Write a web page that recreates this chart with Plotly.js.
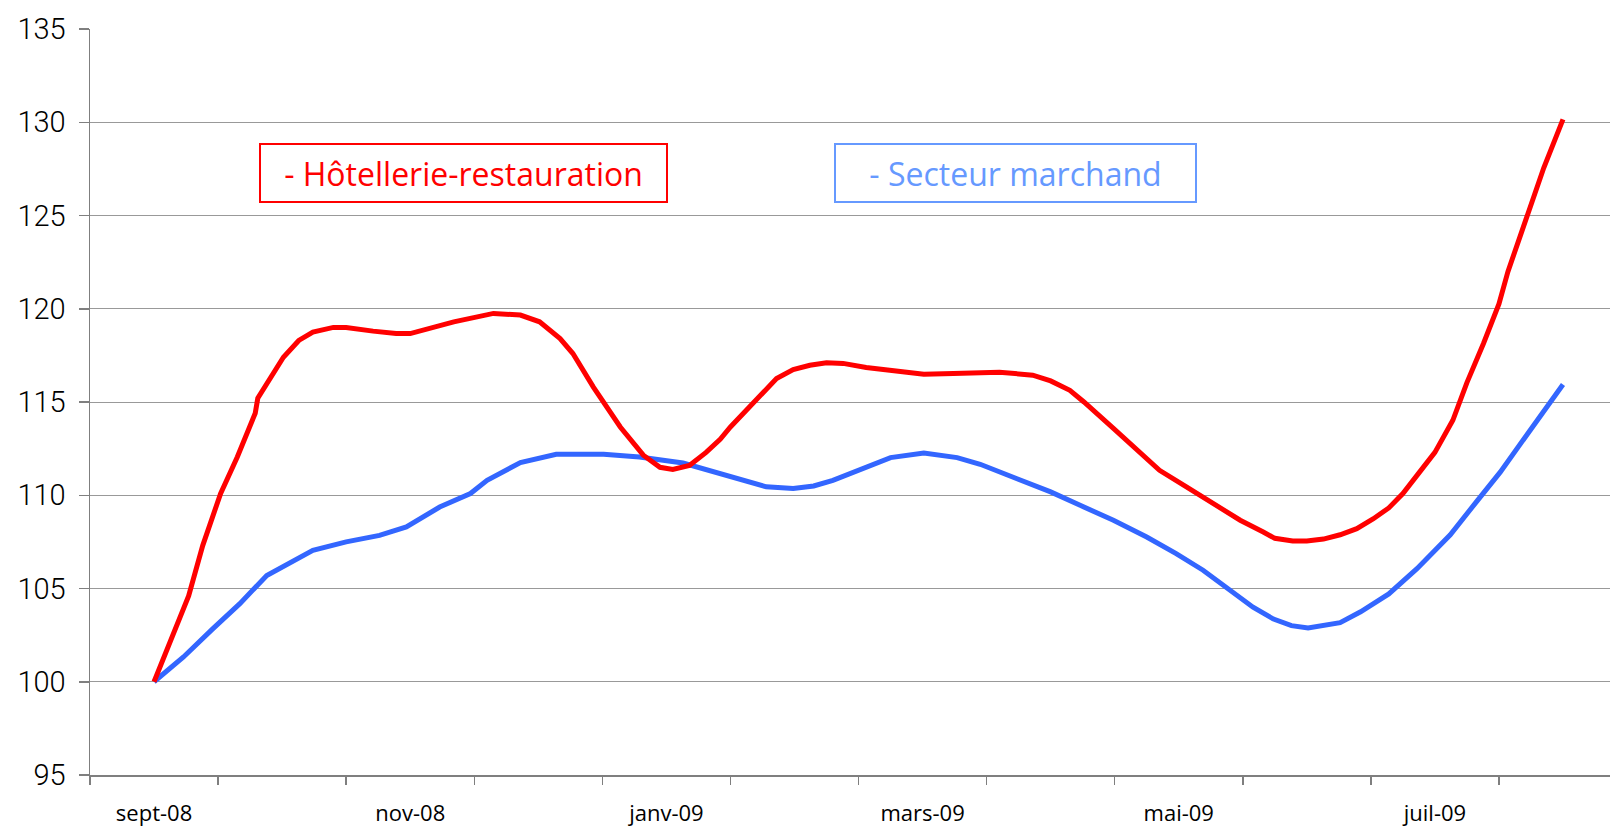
<!DOCTYPE html>
<html>
<head>
<meta charset="utf-8">
<script src="https://cdn.plot.ly/plotly-3.0.1.min.js"></script>
<style>
  html, body { margin: 0; padding: 0; background: #ffffff; }
  #chart { width: 1610px; height: 831px; }
</style>
</head>
<body>
<div id="chart"></div>
<script>
// months, sept-08 = 0 ... août-09 = 11
var mois = ["sept-08", "oct-08", "nov-08", "déc-08", "janv-09", "févr-09",
            "mars-09", "avr-09", "mai-09", "juin-09", "juil-09", "août-09"];
var moisAffiches = [0, 2, 4, 6, 8, 10];

// Hôtellerie-restauration (x in months)
var xHotel = [0, 0.27, 0.38, 0.52, 0.65, 0.79, 0.81, 0.94, 1.01, 1.13, 1.24, 1.40, 1.50,
  1.71, 1.89, 2.00, 2.23, 2.34, 2.65, 2.86, 3.01, 3.17, 3.27, 3.43, 3.64, 3.82, 3.95,
  4.05, 4.18, 4.31, 4.42, 4.50, 4.65, 4.86, 4.99, 5.12, 5.25, 5.38, 5.56, 5.77, 6.01,
  6.24, 6.47, 6.60, 6.86, 7.00, 7.15, 7.26, 7.49, 7.72, 7.85, 8.06, 8.27, 8.48, 8.66,
  8.75, 8.89, 9.00, 9.13, 9.26, 9.39, 9.52, 9.64, 9.75, 9.88, 10.00, 10.14, 10.25,
  10.38, 10.50, 10.57, 10.72, 10.85, 11];
var yHotel = [100, 104.6, 107.3, 110.1, 112.05, 114.4, 115.2, 116.7, 117.4, 118.3, 118.75, 119.0, 119.0,
  118.8, 118.67, 118.67, 119.1, 119.3, 119.75, 119.66, 119.3, 118.4, 117.6, 115.8, 113.66, 112.15, 111.5,
  111.38, 111.6, 112.3, 113.0, 113.66, 114.74, 116.26, 116.74, 116.97, 117.1, 117.07, 116.85, 116.67, 116.49,
  116.53, 116.61, 116.6, 116.44, 116.13, 115.63, 115.0, 113.58, 112.15, 111.34, 110.45, 109.55, 108.66, 108.03,
  107.69, 107.55, 107.55, 107.65, 107.88, 108.21, 108.74, 109.32, 110.09, 111.24, 112.3, 114.02, 116.04,
  118.15, 120.26, 121.99, 125.07, 127.56, 130.15];

// Secteur marchand
var xMarchand = [0, 0.23, 0.46, 0.67, 0.88, 1.04, 1.24, 1.50, 1.76, 1.97, 2.23, 2.47, 2.60,
  2.86, 3.14, 3.51, 3.79, 4.13, 4.42, 4.52, 4.78, 4.99, 5.15, 5.30, 5.54, 5.75, 6.01,
  6.27, 6.45, 6.71, 7.00, 7.23, 7.49, 7.75, 7.98, 8.19, 8.40, 8.58, 8.74, 8.88, 9.01,
  9.26, 9.42, 9.64, 9.86, 10.12, 10.33, 10.51, 10.72, 11];
var yMarchand = [100, 101.33, 102.85, 104.19, 105.7, 106.33, 107.05, 107.5, 107.85, 108.3, 109.37, 110.09, 110.8,
  111.75, 112.2, 112.2, 112.05, 111.73, 111.16, 110.9, 110.45, 110.36, 110.5, 110.8, 111.43, 112.02, 112.27,
  112.02, 111.66, 110.98, 110.18, 109.46, 108.66, 107.76, 106.87, 105.98, 104.9, 104.0, 103.36, 103.01, 102.88,
  103.17, 103.75, 104.71, 106.06, 107.88, 109.7, 111.24, 113.26, 115.94];

var traces = [
  {
    x: xMarchand, y: yMarchand,
    type: 'scatter', mode: 'lines',
    name: '- Secteur marchand',
    line: { color: '#3366FF', width: 5 }
  },
  {
    x: xHotel, y: yHotel,
    type: 'scatter', mode: 'lines',
    name: '- Hôtellerie-restauration',
    line: { color: '#FF0000', width: 5 }
  }
];

var layout = {
  width: 1610,
  height: 831,
  margin: { l: 90, r: 0, t: 29, b: 56 },
  paper_bgcolor: '#ffffff',
  plot_bgcolor: '#ffffff',
  showlegend: false,
  xaxis: {
    range: [-0.5, 11.367],
    tickmode: 'array',
    tickvals: moisAffiches,
    ticktext: moisAffiches.map(function (i) { return mois[i]; }),
    ticks: '',
    ticklabelstandoff: 18,
    showgrid: false,
    zeroline: false,
    showline: true,
    linecolor: '#7f7f7f',
    linewidth: 1.5,
    tickfont: { family: 'Open Sans, sans-serif', size: 22, color: '#000000' },
    minor: {
      tick0: -0.5,
      dtick: 1,
      ticks: 'outside',
      ticklen: 8,
      tickwidth: 1.5,
      tickcolor: '#7f7f7f',
      showgrid: false
    }
  },
  yaxis: {
    range: [95, 135],
    tick0: 95,
    dtick: 5,
    ticks: 'outside',
    ticklen: 10,
    tickwidth: 1.5,
    tickcolor: '#7f7f7f',
    ticklabelstandoff: 7,
    showgrid: true,
    gridcolor: '#999999',
    gridwidth: 1,
    zeroline: false,
    showline: true,
    linecolor: '#7f7f7f',
    linewidth: 1.5,
    tickfont: { family: 'Roboto, sans-serif', size: 29, weight: 300, color: '#000000' }
  },
  annotations: [
    {
      xref: 'paper', yref: 'paper',
      x: 0.2457, y: 0.807,
      xanchor: 'center', yanchor: 'middle',
      text: '- Hôtellerie-restauration',
      showarrow: false,
      font: { family: 'Open Sans, sans-serif', size: 32, color: '#FF0000' },
      bordercolor: '#FF0000', borderwidth: 2, borderpad: 2,
      width: 401, height: 52, bgcolor: '#ffffff'
    },
    {
      xref: 'paper', yref: 'paper',
      x: 0.609, y: 0.807,
      xanchor: 'center', yanchor: 'middle',
      text: '- Secteur marchand',
      showarrow: false,
      font: { family: 'Open Sans, sans-serif', size: 32, color: '#6699FF' },
      bordercolor: '#6699FF', borderwidth: 2, borderpad: 2,
      width: 355, height: 52, bgcolor: '#ffffff'
    }
  ]
};

Plotly.newPlot('chart', traces, layout, { displayModeBar: false, staticPlot: true });
</script>
</body>
</html>
